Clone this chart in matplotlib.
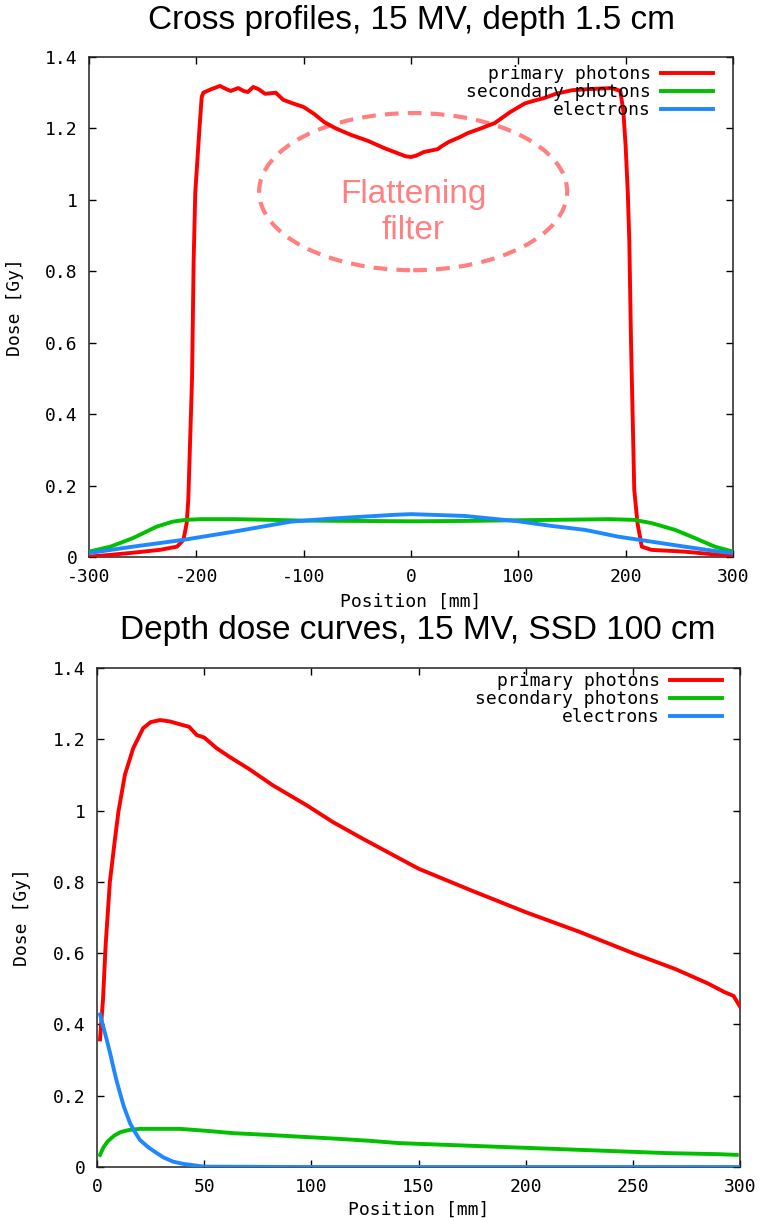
import matplotlib
matplotlib.use("Agg")
import matplotlib.pyplot as plt
from matplotlib.patches import Ellipse

# ---- cross profiles, depth 1.5 cm ----
cx_primary = [-300, -280, -259, -234, -218, -212, -209, -207.5, -204, -202.5, -201, -197, -195, -193.5,
              -186, -178, -172, -168, -161, -156, -152, -147, -142, -136, -126, -119, -110, -100,
              -90, -81, -70, -56, -40, -25, -12, -5, 0, 5, 12, 25, 28, 35, 45, 53, 65, 78, 92, 106,
              115, 124, 135, 150, 165, 187, 195, 197.8, 200, 202, 203.4, 205, 207, 208, 211, 215,
              224, 255, 287, 300]
cy_primary = [0.001, 0.006, 0.012, 0.020, 0.029, 0.048, 0.095, 0.16, 0.50, 0.83, 1.02, 1.204, 1.288, 1.300,
              1.310, 1.319, 1.310, 1.305, 1.313, 1.305, 1.302, 1.316, 1.310, 1.297, 1.300, 1.280, 1.270, 1.260,
              1.240, 1.218, 1.200, 1.182, 1.165, 1.145, 1.130, 1.122, 1.120, 1.124, 1.134, 1.142, 1.149, 1.162,
              1.175, 1.187, 1.200, 1.215, 1.245, 1.270,
              1.278, 1.285, 1.297, 1.307, 1.310, 1.313, 1.305, 1.25, 1.149, 1.019, 0.883, 0.60, 0.328, 0.188,
              0.095, 0.029, 0.020, 0.015, 0.006, 0.003]

cx_secondary = [-300, -280, -259, -237, -222, -210, -196, -165, -130, -103, -50, 0, 50, 100, 131, 160,
                184, 208, 224, 246, 264.5, 283, 300]
cy_secondary = [0.015, 0.029, 0.053, 0.085, 0.099, 0.104, 0.106, 0.106, 0.104, 0.102, 0.101, 0.100,
                0.101, 0.103, 0.104, 0.105, 0.106, 0.104, 0.095, 0.076, 0.053, 0.029, 0.015]

cx_electrons = [-300, -259, -212, -165, -112, -72, -16, 0, 50, 100, 131, 162, 193, 224, 255, 287, 300]
cy_electrons = [0.011, 0.029, 0.048, 0.071, 0.099, 0.108, 0.118, 0.120, 0.115, 0.100, 0.087, 0.076,
                0.057, 0.043, 0.029, 0.015, 0.011]

# ---- depth dose, SSD 100 cm ----
dx_primary = [1.4, 2.8, 4, 6, 8.4, 10, 13, 16.9, 21.5, 25, 29.4, 34, 38.7, 43, 46.5, 50, 55.8, 62,
              70.6, 82, 97.8, 110, 124, 150, 175, 200, 225, 250, 270, 285, 293, 297, 300]
dy_primary = [0.358, 0.47, 0.62, 0.80, 0.921, 0.997, 1.10, 1.175, 1.231, 1.248, 1.254, 1.250, 1.242,
              1.235, 1.212, 1.205, 1.175, 1.150, 1.118, 1.071, 1.015, 0.968, 0.921, 0.837, 0.775, 0.715,
              0.660, 0.600, 0.555, 0.515, 0.490, 0.480, 0.450]

dx_secondary = [1.4, 3, 5, 8, 11, 15, 20, 30, 38.7, 50, 63.5, 80, 94.7, 110, 126, 141, 172.5, 203.5,
                234.7, 265.8, 290, 298.5]
dy_secondary = [0.034, 0.055, 0.072, 0.088, 0.098, 0.104, 0.107, 0.107, 0.107, 0.102, 0.095, 0.090,
                0.085, 0.080, 0.074, 0.067, 0.060, 0.053, 0.046, 0.039, 0.036, 0.034]

dx_electrons = [1.4, 3, 4.5, 6, 7.5, 9, 10.7, 12.5, 15.4, 17.5, 20, 24, 27.9, 31, 35.5, 40, 45, 50,
                100, 200, 300]
dy_electrons = [0.428, 0.392, 0.358, 0.322, 0.283, 0.245, 0.208, 0.170, 0.123, 0.100, 0.076, 0.055,
                0.039, 0.027, 0.015, 0.009, 0.005, 0.001, 0, 0, 0]

labels = ["primary photons", "secondary photons", "electrons"]
colors = ["#ff0000", "#00c000", "#1e88ff"]
yticks = [0, 0.2, 0.4, 0.6, 0.8, 1, 1.2, 1.4]

mono = "DejaVu Sans Mono"
sans = "Liberation Sans"
fs = 13

fig = plt.figure(figsize=(7.63, 12.21), dpi=100)
ax1 = fig.add_axes([89 / 763, 1 - 557 / 1221, 644 / 763, 500 / 1221])
ax2 = fig.add_axes([97 / 763, 1 - 1167 / 1221, 643 / 763, 499 / 1221])


def style(ax, xticks):
    ax.set_xticks(xticks)
    ax.set_yticks(yticks)
    ax.set_yticklabels(["%g" % v for v in yticks])
    ax.set_xticklabels(["%g" % v for v in xticks])
    ax.tick_params(direction="in", top=True, right=True, length=5, width=1,
                   labelsize=fs, pad=8)
    for lab in ax.get_xticklabels() + ax.get_yticklabels():
        lab.set_family(mono)
    for sp in ax.spines.values():
        sp.set_linewidth(1.1)
        sp.set_color("#222222")
    ax.set_ylim(0, 1.4)


lw = 2.8
for ax, data in [(ax1, [(cx_primary, cy_primary), (cx_secondary, cy_secondary), (cx_electrons, cy_electrons)]),
                 (ax2, [(dx_primary, dy_primary), (dx_secondary, dy_secondary), (dx_electrons, dy_electrons)])]:
    for (x, y), c, lab in zip(data, colors, labels):
        ax.plot(x, y, color=c, lw=lw, label=lab, zorder=3)

style(ax1, [-300, -200, -100, 0, 100, 200, 300])
ax1.set_xlim(-300, 300)
style(ax2, [0, 50, 100, 150, 200, 250, 300])
ax2.set_xlim(0, 300)

# flattening filter annotation
ell = Ellipse((2, 1.023), width=287, height=0.44, fill=False, edgecolor="#ff8080",
              lw=3, linestyle=(0, (3.3, 2.2)), zorder=2)
ax1.add_patch(ell)
ax1.text(2, 0.965, "Flattening\nfilter", color="#ff8080", fontsize=24, family=sans,
         ha="center", va="center", linespacing=1.2, zorder=2)

for ax, anchor in [(ax1, (0.969, 0.983)), (ax2, (0.972, 0.991))]:
    leg = ax.legend(loc="upper right", bbox_to_anchor=anchor, frameon=False, markerfirst=False,
                    handlelength=2.9, handletextpad=0.55, labelspacing=0.0, borderpad=0,
                    borderaxespad=0, prop={"family": mono, "size": fs})
    for h in leg.get_lines():
        h.set_linewidth(2.8)

ax1.set_xlabel("Position [mm]", family=mono, fontsize=fs)
ax1.set_ylabel("Dose [Gy]", family=mono, fontsize=fs)
ax1.xaxis.set_label_coords(0.5, -0.072)
ax1.yaxis.set_label_coords(-0.101, 0.5)
ax2.set_xlabel("Position [mm]", family=mono, fontsize=fs)
ax2.set_ylabel("Dose [Gy]", family=mono, fontsize=fs)
ax2.xaxis.set_label_coords(0.5, -0.068)
ax2.yaxis.set_label_coords(-0.103, 0.5)

fig.text(411 / 763, 1 - 20 / 1221, "Cross profiles, 15 MV, depth 1.5 cm", family=sans,
         fontsize=24, ha="center", va="center")
fig.text(418 / 763, 1 - 631 / 1221, "Depth dose curves, 15 MV, SSD 100 cm", family=sans,
         fontsize=24, ha="center", va="center")

fig.savefig("out.png", dpi=100)
